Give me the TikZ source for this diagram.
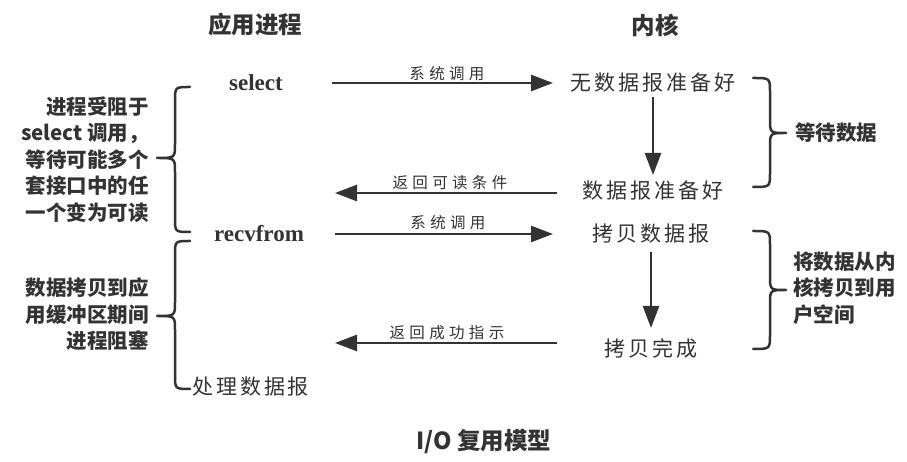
\documentclass[tikz,border=0pt]{standalone}
\usepackage{fontspec}
\setmainfont{Liberation Serif}
\newfontfamily\cjk{Noto Sans CJK SC}
\newfontfamily\cjkn[LetterSpace=14]{Noto Sans CJK SC}
\newfontfamily\cjks[LetterSpace=28]{Noto Sans CJK SC}
\usetikzlibrary{arrows.meta}
\definecolor{ink}{HTML}{333333}
\tikzset{
  ttl/.style={font=\cjk\bfseries\fontsize{23.5bp}{28bp}\selectfont, text=ink, inner sep=0pt},
  call/.style={font=\bfseries\fontsize{23bp}{28bp}\selectfont, text=ink, inner sep=0pt},
  knode/.style={font=\cjkn\fontsize{21bp}{26bp}\selectfont, text=ink, inner sep=0pt},
  albl/.style={font=\cjks\fontsize{15.5bp}{18bp}\selectfont, text=ink, inner sep=0pt},
  note/.style={font=\cjk\bfseries\fontsize{20.5bp}{26.5bp}\selectfont, text=ink, inner sep=0pt},
  arr/.style={draw=ink, line width=2.6bp, -{Triangle[length=22bp,width=16bp]}},
  brc/.style={draw=ink, line width=2.5bp, line cap=round, line join=round},
}
\begin{document}
\begin{tikzpicture}[x=1bp,y=-1bp]
\useasboundingbox (0,0) rectangle (907,462);
% titles
\node[ttl] (tapp) at (255,25) {应用进程};
\node[ttl] (tker) at (655,25) {内核};
\node[ttl] (tmain) at (484,442) {I/O 复用模型};
% left column
\node[call] (sel) at (256,83) {select};
\node[call] (recv) at (259,234) {recvfrom};
\node[knode, anchor=west] (proc) at (192,387) {处理数据报};
% kernel column
\node[knode] (nodata) at (653,83) {无数据报准备好};
\node[knode] (ready) at (653,191) {数据报准备好};
\node[knode] (copy) at (651,234) {拷贝数据报};
\node[knode] (done) at (651,348) {拷贝完成};
% arrow labels
\node[albl] (l1) at (447,74) {系统调用};
\node[albl] (l2) at (450,183) {返回可读条件};
\node[albl] (l3) at (448,223) {系统调用};
\node[albl] (l4) at (447,333) {返回成功指示};
% arrows
\draw[arr, shorten <=76bp, shorten >=100bp] (sel.center) -- (sel.center -| nodata.center);
\draw[arr, shorten <=14bp, shorten >=16bp] (nodata.center) -- (ready.center);
\draw[arr, shorten <=96bp, shorten >=79bp] ([yshift=-2bp]ready.center) -- ([yshift=-2bp]ready.center -| sel.center);
\draw[arr, shorten <=76bp, shorten >=98bp] (recv.center) -- (recv.center -| copy.center);
\draw[arr, shorten <=18bp, shorten >=20bp] (copy.center) -- (done.center);
\draw[arr, shorten <=94bp, shorten >=76bp] ([yshift=5bp]done.center) -- ([yshift=5bp]done.center -| recv.center);
% left notes
\node[note, align=right, anchor=east] (n1) at (149,159.5) {进程受阻于\\select 调用，\\等待可能多个\\套接口中的任\\一个变为可读};
\node[note, align=right, anchor=east] (n2) at (149,314.5) {数据拷贝到应\\用缓冲区期间\\进程阻塞};
% right notes
\node[note, anchor=west] (n3) at (795,133) {等待数据};
\node[note, align=left, anchor=west] (n4) at (793,288) {将数据从内\\核拷贝到用\\户空间};
% braces
\draw[brc] (190,87) .. controls (175,87) .. (175,101) -- (175,144) .. controls (175,158) .. (157,158) .. controls (175,158) .. (175,172) -- (175,218) .. controls (175,232) .. (190,232);
\draw[brc] (190,241) .. controls (175,241) .. (175,255) -- (175,302) .. controls (175,316) .. (157,316) .. controls (175,316) .. (175,330) -- (175,375) .. controls (175,389) .. (190,389);
\draw[brc] (753,78) .. controls (770,78) .. (770,92) -- (770,119) .. controls (770,133) .. (786,133) .. controls (770,133) .. (770,147) -- (770,173) .. controls (770,187) .. (753,187);
\draw[brc] (753,231) .. controls (770,231) .. (770,245) -- (770,276) .. controls (770,290) .. (786,290) .. controls (770,290) .. (770,304) -- (770,335) .. controls (770,349) .. (753,349);
\end{tikzpicture}
\end{document}
